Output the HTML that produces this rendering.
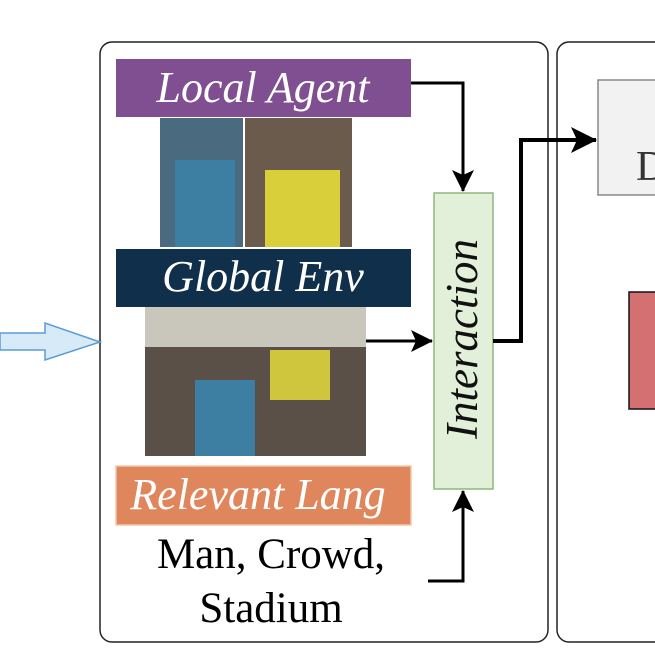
<!DOCTYPE html>
<html><head><style>body{margin:0;background:#fff}</style></head><body>
<svg width="655" height="655" viewBox="0 0 655 655" xmlns="http://www.w3.org/2000/svg" font-family="Liberation Serif, serif">
<defs>
<marker id="b" markerWidth="26" markerHeight="26" refX="25" refY="13" orient="auto" markerUnits="userSpaceOnUse"><path d="M0,0 L26,13 L0,26 L6,13 Z" fill="#000"/></marker>
<marker id="c" markerWidth="22" markerHeight="22" refX="21" refY="11" orient="auto" markerUnits="userSpaceOnUse"><path d="M0,0 L22,11 L0,22 L5,11 Z" fill="#000"/></marker></defs>
<rect x="100" y="42" width="448" height="600" rx="12" fill="#fff" stroke="#222" stroke-width="1.5"/>
<rect x="557" y="42" width="140" height="600" rx="12" fill="#fff" stroke="#222" stroke-width="1.5"/>
<rect x="598" y="80" width="110" height="115" fill="#f2f2f2" stroke="#888" stroke-width="1.5"/>
<text x="636" y="180" font-size="42" fill="#333">D</text>
<rect x="629" y="292" width="80" height="117" fill="#d46f72" stroke="#111" stroke-width="1.5"/>
<path d="M0,333 H45 V323 L100,342 L45,360 V350 H0 Z" fill="#d6ebf7" stroke="#5b9bd5" stroke-width="1.5"/>
<rect x="116" y="59" width="295" height="58" fill="#7f4f91"/>
<text x="263" y="102" font-size="44" font-style="italic" fill="#fff" text-anchor="middle">Local Agent</text>
<rect x="160" y="118" width="83" height="129" fill="#4a6a80"/>
<rect x="175" y="160" width="60" height="87" fill="#3d7fa3"/>
<rect x="245" y="118" width="107" height="129" fill="#6b5b4c"/>
<rect x="265" y="170" width="75" height="77" fill="#d9cf3a"/>
<rect x="116" y="249" width="295" height="58" fill="#0f2f4a"/>
<text x="263" y="291" font-size="44" font-style="italic" fill="#fff" text-anchor="middle">Global Env</text>
<rect x="145" y="307" width="221" height="149" fill="#5a5048"/>
<rect x="145" y="307" width="221" height="40" fill="#c9c6bc"/>
<rect x="270" y="350" width="60" height="50" fill="#cfc63e"/>
<rect x="195" y="380" width="60" height="76" fill="#3d7fa3"/>
<rect x="116" y="466" width="295" height="59" fill="#e0865c" stroke="#f0c8a8" stroke-width="1.5"/>
<text x="258" y="509" font-size="44" font-style="italic" fill="#fff" text-anchor="middle">Relevant Lang</text>
<text x="271" y="568" font-size="43" text-anchor="middle">Man, Crowd,</text>
<text x="271" y="622" font-size="43" text-anchor="middle">Stadium</text>
<rect x="434" y="193" width="59" height="296" fill="#e2efd9" stroke="#8db87a" stroke-width="1.5"/>
<text transform="translate(477,339) rotate(-90)" font-size="45" font-style="italic" text-anchor="middle" fill="#111">Interaction</text>
<g fill="none" stroke="#000" stroke-width="3">
<path d="M411,83 H463 V191" marker-end="url(#c)"/>
<path d="M366,341 H432" marker-end="url(#c)"/>
<path d="M428,581 H463 V491" marker-end="url(#c)"/>
<path d="M493,341 H521 V140 H596" stroke-width="4" marker-end="url(#b)"/>
</g>
</svg>
</body></html>
